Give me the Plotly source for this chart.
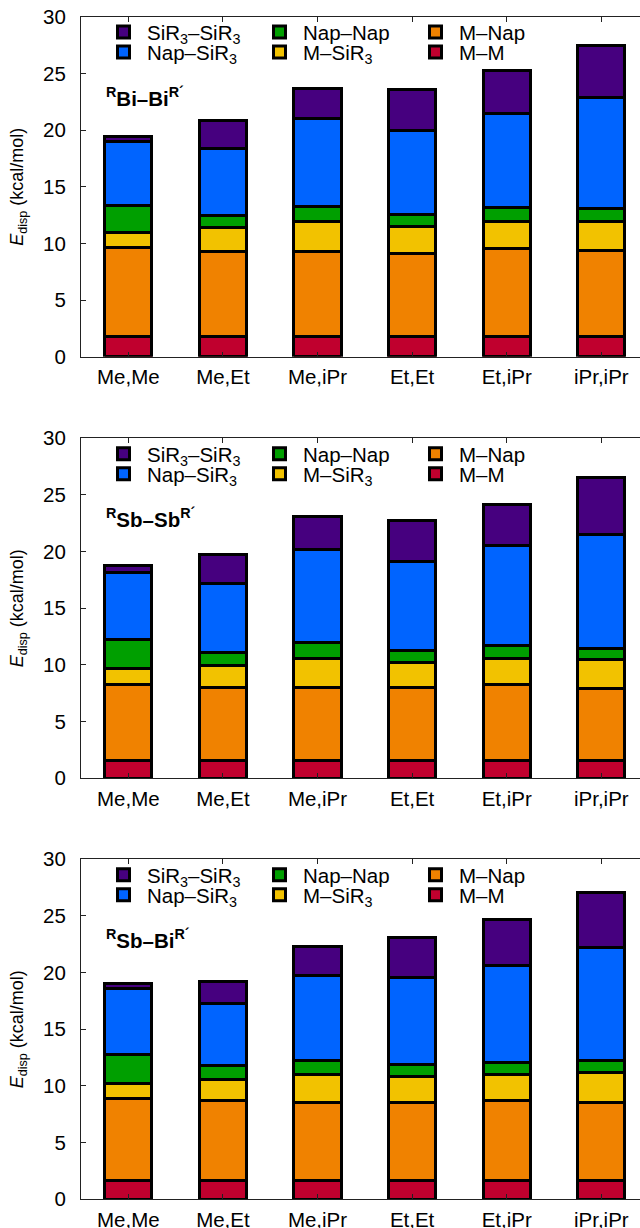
import plotly.graph_objects as go

# ---------------- data ----------------
categories = ["Me,Me", "Me,Et", "Me,iPr", "Et,Et", "Et,iPr", "iPr,iPr"]

series_names = ["M\u2013M", "M\u2013Nap", "M\u2013SiR<sub>3</sub>", "Nap\u2013Nap",
                "Nap\u2013SiR<sub>3</sub>", "SiR<sub>3</sub>\u2013SiR<sub>3</sub>"]
series_colors = ["#c0002e", "#f08200", "#f2c200", "#009f00", "#0064ff", "#46007f"]
# legend layout: row (0 = upper, 1 = lower) and column rank of each series
legend_row = [1, 0, 1, 0, 1, 0]
legend_rank = [3, 3, 2, 2, 1, 1]

panel_titles = ["<b><sup>R</sup>Bi\u2013Bi<sup>R\u00b4</sup></b>",
                "<b><sup>R</sup>Sb\u2013Sb<sup>R\u00b4</sup></b>",
                "<b><sup>R</sup>Sb\u2013Bi<sup>R\u00b4</sup></b>"]

# RBi-BiR'
bibi_m_m     = [1.82, 1.82, 1.82, 1.82, 1.82, 1.82]
bibi_m_nap   = [7.78, 7.48, 7.48, 7.28, 7.69, 7.57]
bibi_m_si    = [1.38, 2.06, 2.59, 2.40, 2.38, 2.56]
bibi_nap_nap = [2.37, 1.11, 1.38, 1.09, 1.29, 1.11]
bibi_nap_si  = [5.64, 5.90, 7.72, 7.37, 8.31, 9.83]
bibi_si_si   = [0.44, 2.44, 2.70, 3.58, 3.78, 4.61]

# RSb-SbR'
sbsb_m_m     = [1.53, 1.53, 1.53, 1.53, 1.53, 1.53]
sbsb_m_nap   = [6.76, 6.47, 6.47, 6.47, 6.76, 6.35]
sbsb_m_si    = [1.42, 1.94, 2.59, 2.21, 2.30, 2.62]
sbsb_nap_nap = [2.50, 1.18, 1.38, 1.05, 1.17, 0.97]
sbsb_nap_si  = [5.97, 6.09, 8.18, 7.83, 8.77, 10.06]
sbsb_si_si   = [0.58, 2.58, 2.97, 3.65, 3.59, 5.00]

# RSb-BiR'
sbbi_m_m     = [1.62, 1.62, 1.62, 1.62, 1.62, 1.62]
sbbi_m_nap   = [7.29, 7.09, 6.94, 6.94, 7.09, 6.94]
sbbi_m_si    = [1.27, 1.88, 2.41, 2.26, 2.26, 2.65]
sbbi_nap_nap = [2.56, 1.20, 1.24, 1.09, 1.12, 1.08]
sbbi_nap_si  = [5.82, 5.50, 7.53, 7.68, 8.53, 9.92]
sbbi_si_si   = [0.44, 1.97, 2.55, 3.47, 4.09, 4.85]

panels = [
    [bibi_m_m, bibi_m_nap, bibi_m_si, bibi_nap_nap, bibi_nap_si, bibi_si_si],
    [sbsb_m_m, sbsb_m_nap, sbsb_m_si, sbsb_nap_nap, sbsb_nap_si, sbsb_si_si],
    [sbbi_m_m, sbbi_m_nap, sbbi_m_si, sbbi_nap_nap, sbbi_nap_si, sbbi_si_si],
]

# ---------------- layout geometry (pixels) ----------------
W, H = 640, 1228
L = 81
plot_w = W - L
panel_tops = [16.7, 438.3, 859.3]
panel_h = 340.0
row_centers = [16.5, 36.5]      # legend rows, relative to panel top
FONT = "Liberation Sans, Arial, Helvetica, sans-serif"

def px_x(p):
    return (p - L) / plot_w

def px_y(p):
    return (H - p) / H

fig = go.Figure()
layout = dict(
    template="none",
    width=W, height=H,
    margin=dict(l=L, r=0, t=0, b=0, pad=0, autoexpand=False),
    barmode="stack",
    plot_bgcolor="white", paper_bgcolor="white",
    font=dict(family=FONT, size=20, color="black"),
    showlegend=True,
    annotations=[],
)

for i, data in enumerate(panels):
    sfx = "" if i == 0 else str(i + 1)
    xa, ya = "x" + sfx, "y" + sfx
    legs = []
    for r in range(2):
        n = 2 * i + r + 1
        legs.append("legend" if n == 1 else "legend" + str(n))
    for k, vals in enumerate(data):
        fig.add_trace(go.Bar(
            x=categories, y=vals, name=series_names[k],
            xaxis=xa, yaxis=ya, legend=legs[legend_row[k]], legendrank=legend_rank[k],
            width=0.5,
            marker=dict(color=series_colors[k], line=dict(color="black", width=3)),
            hoverinfo="x+y+name",
        ))
    top = panel_tops[i]
    bottom = top + panel_h
    layout["xaxis" + sfx] = dict(
        domain=[0, 1], anchor=ya, type="category",
        categoryorder="array", categoryarray=categories,
        range=[-0.5, -0.5 + plot_w / 94.6],
        showline=True, linecolor="#222", linewidth=1.2, mirror="ticks",
        ticks="inside", ticklen=5, tickcolor="#222",
        tickfont=dict(family=FONT, size=20.5, color="black"),
        ticklabelstandoff=2, automargin=False,
        showgrid=False, zeroline=False, fixedrange=True,
    )
    layout["yaxis" + sfx] = dict(
        domain=[px_y(bottom), px_y(top)], anchor=xa,
        range=[0, 30], dtick=5, tick0=0,
        showline=True, linecolor="#222", linewidth=1.2, mirror=False,
        ticks="inside", ticklen=5, tickcolor="#222",
        tickfont=dict(family=FONT, size=20.5, color="black"),
        ticklabelstandoff=10, automargin=False,
        showgrid=False, zeroline=False, fixedrange=True,
        title=dict(text="<i>E</i><sub>disp</sub> (kcal/mol)",
                   font=dict(family=FONT, size=18, color="black"), standoff=14),
    )
    for r in range(2):
        layout[legs[r]] = dict(
            orientation="h", x=px_x(100), xanchor="left",
            y=px_y(top + row_centers[r] - 21), yanchor="top",
            itemwidth=37,
            entrywidth=104, entrywidthmode="pixels",
            font=dict(family=FONT, size=20.5, color="black"),
            bgcolor="rgba(0,0,0,0)", borderwidth=0, traceorder="normal",
        )
    layout["annotations"].append(dict(
        text=panel_titles[i], xref="paper", yref="paper",
        x=px_x(104), y=px_y(top + 80), xanchor="left", yanchor="middle",
        showarrow=False, font=dict(family=FONT, size=20.5, color="black"),
    ))

fig.update_layout(**layout)
fig.write_html("out.html", include_plotlyjs=True, config={"displayModeBar": False})
